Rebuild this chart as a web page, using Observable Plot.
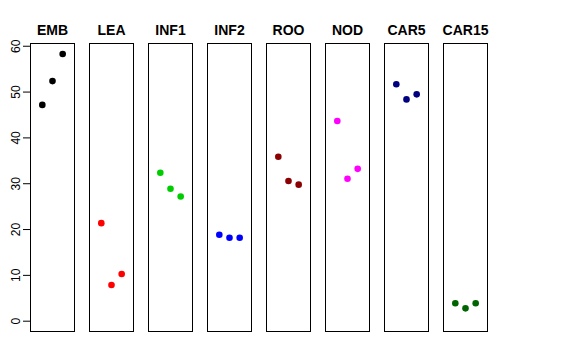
<!DOCTYPE html>
<html><head><meta charset="utf-8">
<script src="https://cdn.jsdelivr.net/npm/d3@7"></script>
<script src="https://cdn.jsdelivr.net/npm/@observablehq/plot@0.6"></script>
<style>body{margin:0;background:#fff}</style>
</head><body><div id="chart"></div>
<script>
const categories = ["EMB","LEA","INF1","INF2","ROO","NOD","CAR5","CAR15"];
const colors = ["#000000","#FF0000","#00CD00","#0000FF","#8B0000","#FF00FF","#000080","#006400"];
const replicate = [1, 2, 3];
const EMB = [47.2, 52.4, 58.3];
const LEA = [21.4, 7.9, 10.3];
const INF1 = [32.4, 28.9, 27.2];
const INF2 = [18.85, 18.2, 18.2];
const ROO = [35.9, 30.6, 29.8];
const NOD = [43.7, 31.1, 33.25];
const CAR5 = [51.7, 48.4, 49.5];
const CAR15 = [3.9, 2.8, 3.9];
const yTicks = [0, 10, 20, 30, 40, 50, 60];

const series = [EMB, LEA, INF1, INF2, ROO, NOD, CAR5, CAR15];
const data = categories.flatMap((c, i) => series[i].map((v, j) => ({group: c, rep: replicate[j], value: v})));

const chart = Plot.plot({
  width: 576, height: 360,
  marginLeft: 29, marginRight: 88, marginTop: 43, marginBottom: 29,
  style: {fontFamily: "'Liberation Sans', Arial, sans-serif", background: "#fff", color: "#000"},
  fx: {domain: categories, paddingInner: 0.248, paddingOuter: 0, label: null},
  x: {domain: [-0.16, 4.16], axis: null},
  y: {domain: [-2.25, 60.6], label: null},
  color: {domain: categories, range: colors},
  marks: [
    Plot.frame({stroke: "#000"}),
    Plot.axisFx({anchor: "top", fontWeight: "bold", fontSize: 14, tickSize: 0, tickPadding: 9, label: null}),
    Plot.axisY(yTicks, {tickSize: 7, tickRotate: -90, fontSize: 12, tickPadding: 4, label: null}),
    Plot.dot(data, {fx: "group", x: "rep", y: "value", fill: "group", r: 3.3})
  ]
});
document.getElementById("chart").appendChild(chart);
</script>
</body></html>
